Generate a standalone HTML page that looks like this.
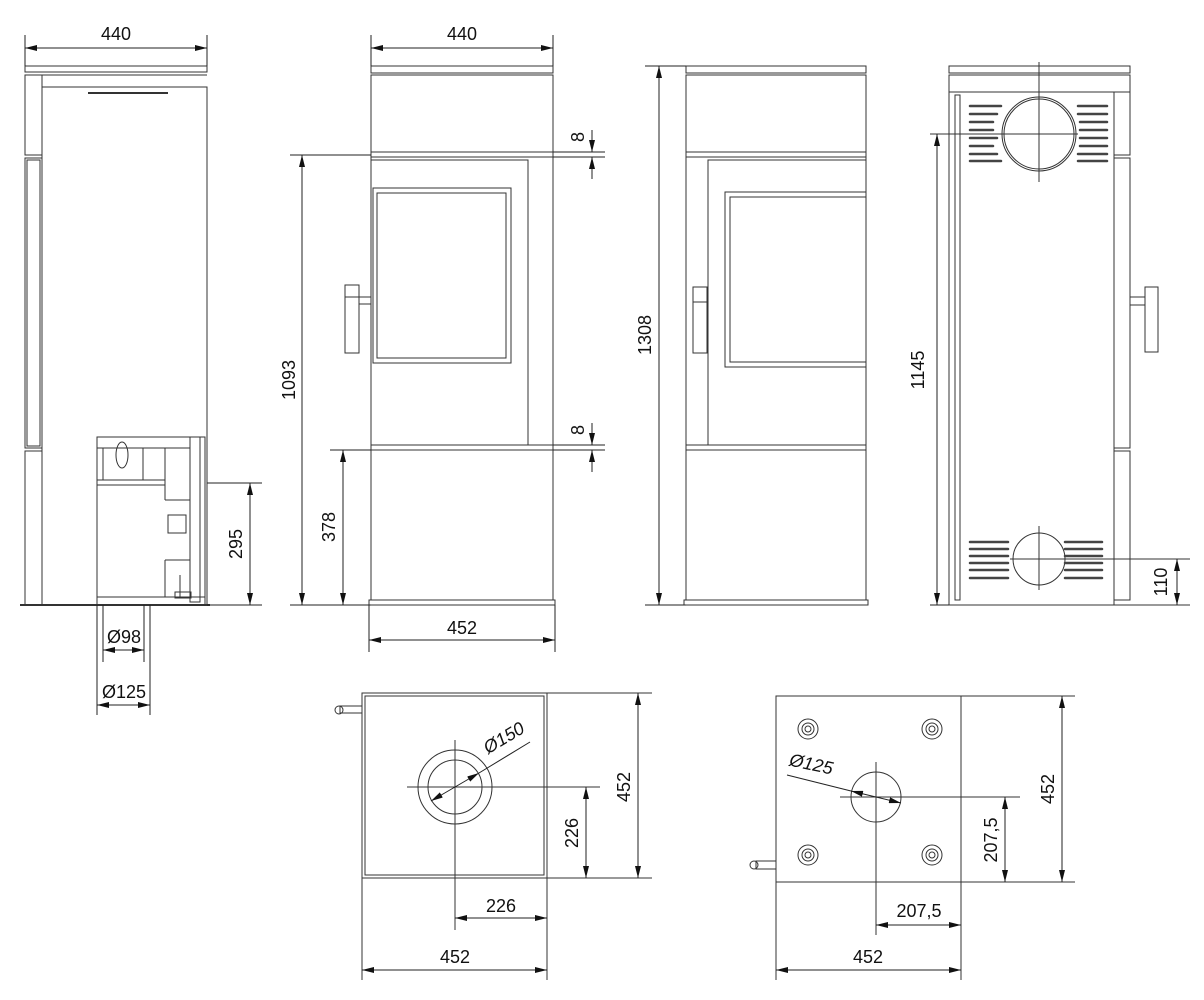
<!DOCTYPE html>
<html><head><style>html,body{margin:0;padding:0;background:#fff}svg{display:block}text{font-family:"Liberation Sans",sans-serif;font-size:18px;fill:#111}</style></head>
<body>
<svg width="1204" height="1000" viewBox="0 0 1204 1000" xmlns="http://www.w3.org/2000/svg">
<defs>
<marker id="a" viewBox="0 0 12 6" refX="12" refY="3" markerWidth="12" markerHeight="6" orient="auto-start-reverse" markerUnits="userSpaceOnUse"><path d="M0,0L12,3L0,6z" fill="#111"/></marker>
</defs>
<g fill="none" stroke="#333" stroke-width="1">
<!-- VIEW 1 side -->
<rect x="25" y="66" width="182" height="6"/>
<line x1="25" y1="75" x2="207" y2="75"/>
<rect x="25" y="75" width="17" height="80"/>
<rect x="25" y="158" width="17" height="290"/>
<rect x="27" y="160" width="13" height="286"/>
<rect x="25" y="451" width="17" height="154"/>
<rect x="42" y="87" width="165" height="518"/>
<line x1="88" y1="93" x2="168" y2="93" stroke-width="2"/>
<rect x="97" y="437" width="108" height="168"/>
<line x1="97" y1="448" x2="190" y2="448"/>
<line x1="103" y1="448" x2="103" y2="480"/>
<line x1="143" y1="448" x2="143" y2="480"/>
<line x1="97" y1="480" x2="165" y2="480"/>
<line x1="97" y1="485" x2="165" y2="485"/>
<line x1="165" y1="448" x2="165" y2="500"/>
<line x1="165" y1="500" x2="190" y2="500"/>
<line x1="165" y1="560" x2="190" y2="560"/>
<line x1="165" y1="560" x2="165" y2="597"/>
<line x1="97" y1="597" x2="205" y2="597"/>
<rect x="190" y="437" width="10" height="165"/>
<rect x="168" y="515" width="18" height="18"/>
<ellipse cx="122" cy="455" rx="6" ry="13"/>
<line x1="180" y1="575" x2="180" y2="598"/>
<rect x="175" y="592" width="16" height="6"/>
<line x1="20" y1="605" x2="210" y2="605" stroke-width="2"/>
<!-- VIEW 2 front -->
<rect x="371" y="66" width="182" height="7"/>
<rect x="371" y="75" width="182" height="77"/>
<rect x="371" y="152" width="182" height="5"/>
<rect x="371" y="157" width="182" height="288"/>
<rect x="371" y="160" width="157" height="285"/>
<rect x="373" y="188" width="138" height="175"/>
<rect x="377" y="193" width="129" height="165"/>
<rect x="345" y="285" width="14" height="68"/>
<line x1="345" y1="297" x2="359" y2="297"/>
<rect x="359" y="297" width="12" height="7"/>
<rect x="371" y="445" width="182" height="5"/>
<rect x="371" y="450" width="182" height="150"/>
<rect x="369" y="600" width="186" height="5"/>
<!-- VIEW 3 front -->
<rect x="686" y="66" width="180" height="7"/>
<rect x="686" y="75" width="180" height="77"/>
<rect x="686" y="152" width="180" height="5"/>
<rect x="686" y="157" width="180" height="288"/>
<rect x="708" y="160" width="158" height="285"/>
<rect x="725" y="192" width="141" height="175"/>
<rect x="730" y="197" width="136" height="165"/>
<rect x="693" y="287" width="14" height="66"/>
<line x1="693" y1="302" x2="707" y2="302"/>
<rect x="686" y="445" width="180" height="5"/>
<rect x="686" y="450" width="180" height="150"/>
<rect x="684" y="600" width="184" height="5"/>
<!-- VIEW 4 back -->
<rect x="949" y="66" width="181" height="7"/>
<rect x="949" y="75" width="181" height="17"/>
<rect x="949" y="92" width="165" height="513"/>
<rect x="955" y="95" width="5" height="505"/>
<rect x="1114" y="92" width="16" height="63"/>
<rect x="1114" y="158" width="16" height="290"/>
<rect x="1114" y="451" width="16" height="149"/>
<circle cx="1039" cy="134" r="37"/>
<circle cx="1039" cy="134" r="35"/>
<circle cx="1039" cy="559" r="26"/>
<line x1="1039" y1="62" x2="1039" y2="182"/>
<line x1="1000" y1="134" x2="1078" y2="134"/>
<line x1="1039" y1="526" x2="1039" y2="590"/>
<line x1="1010" y1="559" x2="1068" y2="559"/>
<line x1="930" y1="134" x2="1000" y2="134"/>
<line x1="1068" y1="559" x2="1190" y2="559"/>
<rect x="1145" y="287" width="13" height="65"/>
<rect x="1130" y="297" width="15" height="8"/>
<line x1="940" y1="605" x2="1190" y2="605"/>
</g>
<g stroke="#444" stroke-width="2.5" stroke-linecap="round">
<line x1="970" y1="106" x2="1001" y2="106"/><line x1="970" y1="114" x2="997" y2="114"/><line x1="970" y1="122" x2="993" y2="122"/><line x1="970" y1="130" x2="993" y2="130"/><line x1="970" y1="138" x2="997" y2="138"/><line x1="970" y1="146" x2="993" y2="146"/><line x1="970" y1="154" x2="997" y2="154"/><line x1="970" y1="161" x2="1001" y2="161"/>
<line x1="1078" y1="106" x2="1107" y2="106"/><line x1="1078" y1="114" x2="1107" y2="114"/><line x1="1080" y1="122" x2="1107" y2="122"/><line x1="1080" y1="130" x2="1107" y2="130"/><line x1="1080" y1="138" x2="1107" y2="138"/><line x1="1080" y1="146" x2="1107" y2="146"/><line x1="1078" y1="154" x2="1107" y2="154"/><line x1="1078" y1="161" x2="1107" y2="161"/>
<line x1="970" y1="542" x2="1008" y2="542"/><line x1="970" y1="549" x2="1008" y2="549"/><line x1="970" y1="556" x2="1008" y2="556"/><line x1="970" y1="563" x2="1008" y2="563"/><line x1="970" y1="570" x2="1008" y2="570"/><line x1="970" y1="578" x2="1008" y2="578"/>
<line x1="1065" y1="542" x2="1102" y2="542"/><line x1="1065" y1="549" x2="1102" y2="549"/><line x1="1065" y1="556" x2="1102" y2="556"/><line x1="1065" y1="563" x2="1102" y2="563"/><line x1="1065" y1="570" x2="1102" y2="570"/><line x1="1065" y1="578" x2="1102" y2="578"/>
</g>
<g fill="none" stroke="#333" stroke-width="1">
<!-- TOP VIEW 1 -->
<rect x="362" y="693" width="185" height="185"/>
<rect x="365" y="696" width="179" height="179"/>
<circle cx="455" cy="787" r="37"/>
<circle cx="455" cy="787" r="27"/>
<line x1="455" y1="740" x2="455" y2="930"/>
<line x1="407" y1="787" x2="600" y2="787"/>
<line x1="547" y1="693" x2="652" y2="693"/>
<line x1="547" y1="878" x2="652" y2="878"/>
<rect x="340" y="706" width="22" height="7"/>
<circle cx="339" cy="710" r="4"/>
<line x1="362" y1="878" x2="362" y2="980"/>
<line x1="547" y1="878" x2="547" y2="980"/>
<!-- TOP VIEW 2 -->
<rect x="776" y="696" width="185" height="186"/>
<circle cx="876" cy="797" r="25"/>
<line x1="876" y1="762" x2="876" y2="935"/>
<line x1="840" y1="797" x2="1020" y2="797"/>
<line x1="961" y1="696" x2="1075" y2="696"/>
<line x1="961" y1="882" x2="1075" y2="882"/>
<line x1="776" y1="882" x2="776" y2="980"/>
<line x1="961" y1="882" x2="961" y2="980"/>
<rect x="756" y="861" width="20" height="8"/>
<circle cx="754" cy="865" r="4"/>
<circle cx="808" cy="729" r="10"/><circle cx="808" cy="729" r="6"/><circle cx="808" cy="729" r="3"/>
<circle cx="932" cy="729" r="10"/><circle cx="932" cy="729" r="6"/><circle cx="932" cy="729" r="3"/>
<circle cx="808" cy="855" r="10"/><circle cx="808" cy="855" r="6"/><circle cx="808" cy="855" r="3"/>
<circle cx="932" cy="855" r="10"/><circle cx="932" cy="855" r="6"/><circle cx="932" cy="855" r="3"/>
</g>
<g stroke="#222" stroke-width="1" fill="none">
<line x1="25" y1="35" x2="25" y2="66"/><line x1="207" y1="35" x2="207" y2="66"/>
<line x1="25" y1="48" x2="207" y2="48" marker-start="url(#a)" marker-end="url(#a)"/>
<line x1="371" y1="35" x2="371" y2="66"/><line x1="553" y1="35" x2="553" y2="66"/>
<line x1="371" y1="48" x2="553" y2="48" marker-start="url(#a)" marker-end="url(#a)"/>
<line x1="207" y1="483" x2="262" y2="483"/><line x1="207" y1="605" x2="262" y2="605"/>
<line x1="250" y1="483" x2="250" y2="605" marker-start="url(#a)" marker-end="url(#a)"/>
<line x1="103" y1="605" x2="103" y2="662"/><line x1="144" y1="605" x2="144" y2="662"/>
<line x1="103" y1="650" x2="144" y2="650" marker-start="url(#a)" marker-end="url(#a)"/>
<line x1="97" y1="605" x2="97" y2="715"/><line x1="150" y1="605" x2="150" y2="715"/>
<line x1="97" y1="705" x2="150" y2="705" marker-start="url(#a)" marker-end="url(#a)"/>
<line x1="290" y1="155" x2="371" y2="155"/><line x1="290" y1="605" x2="371" y2="605"/>
<line x1="302" y1="155" x2="302" y2="605" marker-start="url(#a)" marker-end="url(#a)"/>
<line x1="330" y1="450" x2="371" y2="450"/>
<line x1="343" y1="450" x2="343" y2="605" marker-start="url(#a)" marker-end="url(#a)"/>
<line x1="553" y1="152" x2="605" y2="152"/><line x1="553" y1="157" x2="605" y2="157"/>
<line x1="592" y1="130" x2="592" y2="152" marker-end="url(#a)"/><line x1="592" y1="179" x2="592" y2="157" marker-end="url(#a)"/>
<line x1="553" y1="445" x2="605" y2="445"/><line x1="553" y1="450" x2="605" y2="450"/>
<line x1="592" y1="423" x2="592" y2="445" marker-end="url(#a)"/><line x1="592" y1="472" x2="592" y2="450" marker-end="url(#a)"/>
<line x1="369" y1="605" x2="369" y2="652"/><line x1="555" y1="605" x2="555" y2="652"/>
<line x1="369" y1="640" x2="555" y2="640" marker-start="url(#a)" marker-end="url(#a)"/>
<line x1="645" y1="66" x2="686" y2="66"/><line x1="645" y1="605" x2="686" y2="605"/>
<line x1="659" y1="66" x2="659" y2="605" marker-start="url(#a)" marker-end="url(#a)"/>
<line x1="930" y1="605" x2="949" y2="605"/>
<line x1="937" y1="134" x2="937" y2="605" marker-start="url(#a)" marker-end="url(#a)"/>
<line x1="1177" y1="559" x2="1177" y2="605" marker-start="url(#a)" marker-end="url(#a)"/>
<line x1="638" y1="693" x2="638" y2="878" marker-start="url(#a)" marker-end="url(#a)"/>
<line x1="586" y1="787" x2="586" y2="878" marker-start="url(#a)" marker-end="url(#a)"/>
<line x1="455" y1="918" x2="547" y2="918" marker-start="url(#a)" marker-end="url(#a)"/>
<line x1="362" y1="970" x2="547" y2="970" marker-start="url(#a)" marker-end="url(#a)"/>
<line x1="431" y1="801" x2="479" y2="773" marker-start="url(#a)" marker-end="url(#a)"/>
<line x1="479" y1="773" x2="530" y2="742"/>
<line x1="1062" y1="696" x2="1062" y2="882" marker-start="url(#a)" marker-end="url(#a)"/>
<line x1="1005" y1="797" x2="1005" y2="882" marker-start="url(#a)" marker-end="url(#a)"/>
<line x1="876" y1="925" x2="961" y2="925" marker-start="url(#a)" marker-end="url(#a)"/>
<line x1="776" y1="970" x2="961" y2="970" marker-start="url(#a)" marker-end="url(#a)"/>
<line x1="787" y1="775" x2="851" y2="791"/>
<line x1="851" y1="791" x2="901" y2="803" marker-start="url(#a)" marker-end="url(#a)"/>
</g>
<g text-anchor="middle">
<text x="116" y="40">440</text>
<text x="462" y="40">440</text>
<text x="462" y="634">452</text>
<text x="124" y="643">Ø98</text>
<text x="124" y="698">Ø125</text>
<text x="501" y="912">226</text>
<text x="455" y="963">452</text>
<text x="919" y="917">207,5</text>
<text x="868" y="963">452</text>
<text transform="translate(242,544) rotate(-90)">295</text>
<text transform="translate(295,380) rotate(-90)">1093</text>
<text transform="translate(335,527) rotate(-90)">378</text>
<text transform="translate(584,137) rotate(-90)">8</text>
<text transform="translate(584,430) rotate(-90)">8</text>
<text transform="translate(651,335) rotate(-90)">1308</text>
<text transform="translate(924,370) rotate(-90)">1145</text>
<text transform="translate(1167,582) rotate(-90)">110</text>
<text transform="translate(630,787) rotate(-90)">452</text>
<text transform="translate(578,833) rotate(-90)">226</text>
<text transform="translate(1054,789) rotate(-90)">452</text>
<text transform="translate(997,840) rotate(-90)">207,5</text>
<text transform="translate(507,743) rotate(-31)" font-style="italic">Ø150</text>
<text transform="translate(810,770) rotate(12)" font-style="italic">Ø125</text>
</g>
</svg>
</body></html>
